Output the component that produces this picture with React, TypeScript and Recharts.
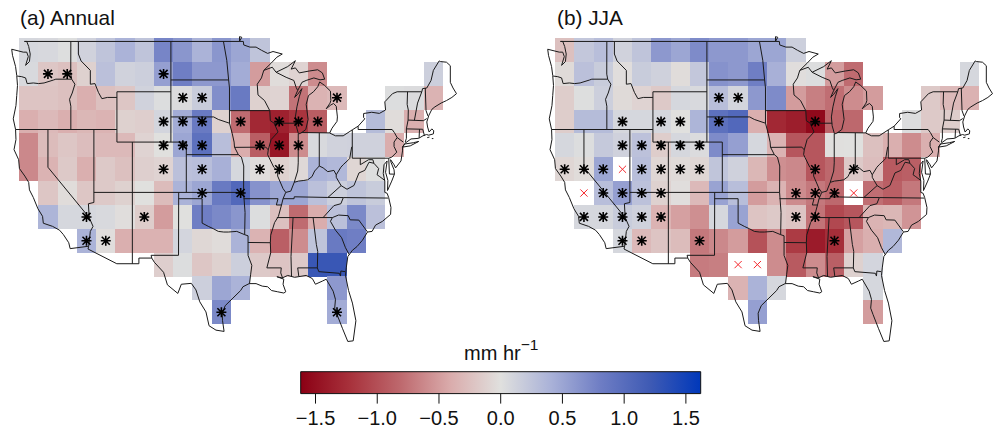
import React from 'react';
import { ScatterChart, Scatter, XAxis, YAxis, ReferenceArea } from 'recharts';

const n = null;

// cell centres of the 2.5 x 1.9 degree model grid
const LONS = [-122.5, -120, -117.5, -115, -112.5, -110, -107.5, -105, -102.5, -100, -97.5, -95, -92.5, -90, -87.5, -85, -82.5, -80, -77.5, -75, -72.5, -70];
const LATS = [48.32, 46.42, 44.53, 42.63, 40.74, 38.84, 36.95, 35.05, 33.16, 31.26, 29.37, 27.47];

const ANNUAL_VALUES = [
  [0.08, 0.07, 0.02, 0.12, 0.25, 0.4, 0.25, 0.75, 0.62, 0.4, 0.62, 0.5, 0.25, n, n, n, n, n, n, n, n, n],
  [0.06, -0.2, -0.25, -0.12, 0.28, 0.12, 0.15, 0.55, 0.8, 0.6, 0.6, 0.45, -0.5, -0.03, -0.1, -0.6, n, n, n, n, n, 0.15],
  [-0.22, -0.22, -0.25, -0.38, -0.25, -0.2, 0.12, 0.03, 0.04, 0.18, 0.68, 0.85, -0.12, -0.1, -0.75, -0.35, -0.3, n, n, 0.03, 0.04, -0.35],
  [-0.38, -0.3, -0.38, -0.32, -0.35, -0.12, -0.14, 0.1, 0.45, 0.85, -0.12, -0.8, -1.3, -1.35, -1.2, -0.9, n, n, 0.32, -0.03, -0.38, n],
  [-0.62, -0.28, -0.2, -0.27, -0.3, -0.3, -0.1, 0, 0.5, 0.95, 0.3, -0.4, -0.9, -1.45, -0.6, 0.06, 0.12, 0.13, 0.13, -0.4, n, n],
  [-0.62, -0.35, -0.18, -0.38, -0.18, -0.25, -0.13, -0.1, 0.28, 0.3, 0.42, 0.08, -0.02, -0.12, -0.06, 0.4, 0.35, -0.08, 0.02, n, n, n],
  [n, -0.2, -0.03, -0.2, -0.18, -0.12, 0, -0.28, 0.4, 0.5, 0.85, 1.05, 0.65, 0.5, 0.5, 0.28, 0.15, 0.25, 0.18, n, n, n],
  [n, 0.38, 0.08, 0.08, 0.06, -0.02, -0.15, -0.5, 0, 0.8, 0.72, 0.62, 0.03, -0.25, -0.8, -0.4, 0.28, 0.72, 0.28, n, n, n],
  [n, n, n, 0.4, -0.02, -0.38, -0.36, -0.36, 0.1, -0.07, -0.03, 0.4, -0.35, -0.88, -0.6, 0.25, 0.85, 0.8, n, n, n, n],
  [n, n, n, n, n, n, n, -0.14, 0.03, -0.2, -0.12, 0.15, -0.18, -0.22, -0.18, 1.25, 1.25, n, n, n, n, n],
  [n, n, n, n, n, n, n, n, n, 0.15, 0.5, 0.4, n, n, n, n, 0.6, n, n, n, n, n],
  [n, n, n, n, n, n, n, n, n, n, 0.72, n, n, n, n, n, 0.45, n, n, n, n, n],
];

const JJA_VALUES = [
  [-0.25, 0.22, 0.3, 0.12, 0.25, 0.6, 0.5, 0.7, 0.6, 0.6, 0.5, 0.5, 0.15, n, n, n, n, n, n, n, n, n],
  [-0.05, 0.28, 0.18, -0.02, 0.18, 0.13, -0.03, 0.22, 0.65, 0.6, 0.8, 0.42, -0.02, 0.03, -0.5, -0.8, n, n, n, n, n, 0.08],
  [-0.15, 0.02, 0.15, -0.05, -0.1, -0.18, 0.08, 0.06, 0.3, 0.1, 0.6, 0.7, -0.5, -0.68, -0.78, -0.6, -0.5, n, n, -0.18, -0.3, -0.36],
  [-0.15, 0.32, 0.32, 0.08, 0.08, 0.08, 0, 0.38, 0.95, 1.05, -0.38, -1.3, -1.38, -1.55, -0.85, -0.82, n, n, 0.03, -0.18, -0.15, n],
  [0.08, 0.03, 0.2, 0.13, 0.27, -0.15, 0.08, 0.04, 0.7, 0.55, 0.08, -0.35, -0.95, -0.95, -0.01, 0, -0.25, -0.38, -0.6, -0.38, n, n],
  [-0.08, -0.03, 0.5, n, 0.3, -0.08, -0.05, -0.08, 0.24, 0.13, -0.32, -0.58, -0.62, -0.95, -0.82, -0.18, -0.27, -0.92, -0.88, n, n, n],
  [n, n, 0.3, 0.55, 0.27, -0.12, -0.02, -0.3, 0.52, 0.3, -0.5, -0.35, -0.6, -0.72, -0.82, n, -0.78, -0.88, -0.72, n, n, n],
  [n, 0.08, 0.08, 0.18, 0.13, -0.35, -0.48, -0.58, 0.08, 0.52, -0.22, -0.18, -0.22, -0.75, -1.05, -0.95, -0.35, -0.32, -0.55, n, n, n],
  [n, n, n, 0.08, -0.3, -0.22, -0.28, -0.72, -0.62, -0.5, -0.98, -0.6, -1.15, -1.4, -1.25, -0.48, -0.38, 0.35, n, n, n, n],
  [n, n, n, n, n, n, n, -0.7, -0.68, n, n, -0.6, -0.92, -0.6, -0.88, -0.12, 0.1, n, n, n, n, n],
  [n, n, n, n, n, n, n, n, n, -0.35, 0.4, 0.08, n, n, n, n, 0.08, n, n, n, n, n],
  [n, n, n, n, n, n, n, n, n, n, 0.55, n, n, n, n, n, -0.5, n, n, n, n, n],
];

// [column, row] of the marked cells
const ANNUAL_STARS = [
  [1, 1], [2, 1], [7, 1], [8, 2], [9, 2], [16, 2], [7, 3], [8, 3], [9, 3], [11, 3], [13, 3], [14, 3], [15, 3],
  [7, 4], [8, 4], [9, 4], [12, 4], [13, 4], [14, 4], [7, 5], [9, 5], [12, 5], [13, 5],
  [9, 6], [11, 6], [3, 7], [6, 7], [3, 8], [4, 8], [10, 11], [16, 11],
];
const JJA_STARS = [
  [8, 2], [9, 2], [3, 3], [5, 3], [6, 3], [8, 3], [13, 3], [3, 4], [4, 4], [5, 4], [6, 4], [7, 4],
  [0, 5], [1, 5], [2, 5], [4, 5], [5, 5], [6, 5], [7, 5], [13, 5], [15, 5],
  [2, 6], [3, 6], [4, 6], [5, 6], [12, 6], [13, 6], [14, 6],
  [1, 7], [2, 7], [3, 7], [4, 7], [5, 7], [12, 7], [13, 7], [3, 8], [4, 8], [7, 8], [14, 8],
];
const JJA_CROSSES = [[3, 5], [1, 6], [15, 6], [9, 9], [10, 9]];

// coastline and lake shores, lon/lat
const COAST = [
  [-123.05, 49], [-122.75, 49], [-122.5, 48.6], [-122.3, 48], [-122.4, 47.4], [-122.9, 47.1], [-122.55, 47.8], [-122.75, 48.15], [-123.2, 48.15], [-124.7, 48.38],
  [-124.6, 47.9], [-124.2, 47], [-124.05, 46.3], [-123.95, 45.5], [-124.05, 44.7], [-124.15, 43.9], [-124.5, 42.85], [-124.2, 42], [-124.15, 41.2], [-124.4, 40.4],
  [-123.8, 39.6], [-123.7, 38.9], [-123, 38.3], [-122.5, 37.8], [-122.4, 37.2], [-121.9, 36.6], [-121.3, 35.7], [-120.7, 35.1], [-120.6, 34.55], [-119.4, 34.3],
  [-118.5, 34], [-118, 33.65], [-117.3, 33], [-117.12, 32.53], [-114.72, 32.72], [-114.8, 32.5], [-111.07, 31.33], [-108.2, 31.33], [-108.2, 31.78], [-106.53, 31.78],
  [-106.2, 31.45], [-105, 30.65], [-104.5, 29.65], [-103.15, 28.97], [-102.7, 29.7], [-101.4, 29.77], [-100.8, 29.25], [-100.3, 28.3], [-99.5, 27.5], [-99.1, 26.4],
  [-98.2, 26.05], [-97.15, 25.95], [-97.35, 26.8], [-97.4, 27.4], [-97, 28], [-96, 28.6], [-95, 29.2], [-94.7, 29.5], [-93.9, 29.75], [-93, 29.75], [-92.2, 29.55],
  [-91.5, 29.5], [-91, 29.2], [-90.2, 29.1], [-89.4, 29], [-89.15, 29.1], [-89.5, 29.7], [-89.4, 30.1], [-90.3, 30.3], [-89.6, 30.2], [-88.9, 30.4], [-88, 30.25],
  [-87.5, 30.3], [-86.5, 30.4], [-85.7, 30.15], [-85.3, 29.7], [-84.4, 29.95], [-83.9, 30.1], [-83, 29.15], [-82.7, 28.5], [-82.8, 27.8], [-82.5, 27.3], [-81.8, 26.2],
  [-81.1, 25.15], [-80.4, 25.2], [-80.05, 26.8], [-80.5, 28.2], [-81, 29.2], [-81.4, 30.4], [-81.3, 31], [-81.1, 31.9], [-80.5, 32.4], [-79.9, 32.7], [-79.2, 33.2],
  [-78.55, 33.85], [-77.95, 33.9], [-77.5, 34.4], [-76.6, 34.7], [-75.55, 35.25], [-75.5, 35.8], [-75.8, 36.6], [-76, 36.93], [-76.3, 37], [-76.3, 37.9], [-76.5, 38.5],
  [-76.4, 39.2], [-76, 39.5], [-76.2, 38.6], [-75.9, 37.95], [-75.95, 37.15], [-75.4, 37.9], [-75.05, 38.45], [-75.1, 38.8], [-75.5, 39.4], [-75.55, 39.6], [-75.1, 39.2],
  [-74.9, 38.95], [-74.2, 39.5], [-74, 40.3], [-74, 40.6], [-73.7, 40.9], [-72.9, 41.25], [-71.9, 41.3], [-71.35, 41.5], [-70.9, 41.6], [-70.6, 41.55], [-70, 41.65],
  [-69.95, 41.9], [-70.2, 42.05], [-70.55, 41.8], [-70.75, 42.2], [-70.85, 42.6], [-70.6, 43.1], [-70.2, 43.6], [-69.8, 43.8], [-69, 44.1], [-68.3, 44.3], [-67.6, 44.55],
  [-67, 44.85], [-67.45, 45.3], [-67.8, 45.75], [-67.8, 47.07], [-68.3, 47.35], [-69.05, 47.4], [-69.25, 47.45], [-70, 46.7], [-70.3, 45.9], [-70.85, 45.3], [-71.4, 45.25],
  [-71.5, 45], [-74.7, 45], [-75.3, 44.85], [-76.3, 44.2], [-76.2, 43.55], [-77, 43.28], [-78, 43.37], [-79.05, 43.27], [-79.05, 42.95], [-78.9, 42.85], [-79.75, 42.27],
  [-80.5, 41.98], [-81.7, 41.5], [-82.7, 41.5], [-83.45, 41.72], [-83.15, 42.1], [-82.5, 42.65], [-82.45, 43], [-82.6, 43.85], [-82.95, 44.07], [-83.3, 43.95], [-83.9, 43.65],
  [-83.4, 44.1], [-83.3, 44.3], [-83.35, 45.05], [-84.1, 45.5], [-84.75, 45.78], [-85, 45.4], [-85.55, 45], [-86.2, 44.7], [-86.5, 44], [-86.25, 42.8], [-86.55, 42],
  [-87.2, 41.7], [-87.5, 41.65], [-87.8, 42.3], [-87.9, 43], [-87.7, 43.8], [-87.4, 44.6], [-87.05, 45.25], [-87.6, 44.8], [-88, 44.55], [-87.6, 45.1], [-87.05, 45.75],
  [-86.5, 45.9], [-85.5, 46.1], [-84.7, 45.95], [-84.1, 46], [-84.4, 46.5], [-85, 46.75], [-86.1, 46.65], [-87.4, 46.5], [-87.9, 46.9], [-88.45, 46.8], [-87.9, 47.47],
  [-88.9, 47], [-90.4, 46.55], [-90.9, 46.95], [-92, 46.7], [-91, 47.3], [-90.3, 47.75], [-89.6, 48], [-90.8, 48.2], [-91.5, 48.05], [-92.3, 48.3], [-93, 48.55], [-93.8, 48.55],
  [-94.6, 48.72], [-94.65, 49], [-95.15, 49], [-95.15, 49.38], [-94.85, 49.33], [-95.15, 49], [-123.05, 49],
];
const LONG_ISLAND = [[-74, 40.6], [-73, 40.7], [-71.9, 41.05], [-72.6, 40.95], [-73.7, 40.85], [-74, 40.6]];

const STATE_LINES = [
  [[-117.03, 49], [-117.04, 46.4], [-116.92, 46], [-116.5, 45.6], [-116.85, 44.9], [-117.2, 44.4], [-117.03, 43.85], [-117.03, 42]],
  [[-124, 46.25], [-123.4, 46.2], [-122.9, 46.1], [-122.7, 45.65], [-121.9, 45.7], [-121.2, 45.65], [-120.5, 45.7], [-119.3, 45.93], [-118.98, 46], [-116.92, 46]],
  [[-124.2, 42], [-111.05, 42]],
  [[-120, 42], [-120, 39], [-114.65, 35]],
  [[-114.04, 42], [-114.04, 36.2], [-114.75, 36.1], [-114.65, 35], [-114.15, 34.3], [-114.5, 33.9], [-114.72, 32.72]],
  [[-114.04, 37], [-94.62, 37]],
  [[-111.05, 45], [-111.05, 41], [-102.05, 41], [-102.05, 37]],
  [[-111.05, 45], [-104.05, 45]],
  [[-116.05, 49], [-116.05, 48], [-115.7, 47.45], [-114.5, 46.7], [-114.5, 45.6], [-113.9, 45.65], [-113.45, 44.95], [-113, 44.45], [-112.3, 44.55], [-111.05, 44.55]],
  [[-104.05, 49], [-104.05, 41]],
  [[-104.05, 45.94], [-96.56, 45.94]],
  [[-104.05, 43], [-98.5, 43], [-97.9, 42.8], [-96.45, 42.5]],
  [[-102.05, 40], [-95.3, 40]],
  [[-109.05, 41], [-109.05, 31.33]],
  [[-103.04, 37], [-103.06, 32], [-106.62, 32], [-106.53, 31.78]],
  [[-103.04, 36.5], [-100, 36.5], [-100, 34.56], [-99.5, 34.4], [-99.2, 34.3], [-98.5, 34.1], [-97.9, 33.9], [-97.2, 33.85], [-96.6, 33.85], [-95.5, 33.9], [-94.48, 33.64]],
  [[-94.62, 37], [-94.43, 35.4], [-94.48, 33.64], [-94.04, 33.55], [-94.04, 31.99], [-93.55, 31.2], [-93.7, 30.5], [-93.85, 29.75]],
  [[-94.04, 33.02], [-91.15, 33]],
  [[-95.3, 40], [-94.9, 39.8], [-94.6, 39.1], [-94.62, 37]],
  [[-97.23, 49], [-96.8, 47.5], [-96.56, 45.94], [-96.45, 45.3], [-96.45, 42.5], [-96.1, 41.7], [-95.85, 41], [-95.8, 40.6], [-95.3, 40]],
  [[-96.45, 43.5], [-91.22, 43.5]],
  [[-95.77, 40.58], [-91.73, 40.6], [-91.42, 40.38]],
  [[-92, 46.7], [-92.3, 46.1], [-92.85, 45.6], [-92.75, 44.75], [-91.9, 44.3], [-91.22, 43.5], [-91.15, 42.7], [-90.65, 42.5], [-90.15, 41.8], [-91.05, 41.2], [-91.42, 40.38], [-91.5, 40], [-90.7, 39], [-90.2, 38.7], [-90.2, 38.3], [-89.5, 37.3], [-89.15, 37], [-89.5, 36.5], [-89.7, 36], [-90.1, 35.1], [-90.6, 34.6], [-91.1, 33.6], [-91.15, 33], [-91.1, 32.2], [-91.6, 31], [-89.73, 31], [-89.8, 30.6], [-89.55, 30.18]],
  [[-90.65, 42.5], [-87.8, 42.5]],
  [[-90.4, 46.55], [-89.1, 46.15], [-88.1, 45.9], [-87.8, 45.35], [-87.6, 45.1]],
  [[-87.53, 41.65], [-87.53, 39.35], [-87.6, 38.7], [-87.95, 38], [-88.05, 37.8]],
  [[-89.15, 37], [-88.5, 37.1], [-88.05, 37.8], [-87.5, 37.9], [-86.8, 37.95], [-86.3, 38], [-85.75, 38.25], [-85.4, 38.7], [-84.8, 39.1], [-84.3, 38.95], [-83.7, 38.65], [-82.9, 38.75], [-82.6, 38.4], [-82, 39], [-81.7, 39.2], [-81, 39.6], [-80.85, 39.7], [-80.6, 40.6], [-80.52, 40.64]],
  [[-80.52, 41.98], [-80.52, 39.72], [-75.79, 39.72], [-75.7, 38.46], [-75.05, 38.45]],
  [[-79.76, 42.27], [-79.76, 42], [-75.35, 42], [-75.05, 41.75], [-74.7, 41.36], [-73.9, 41]],
  [[-74.7, 41.36], [-75.1, 41], [-75.1, 40.65], [-74.75, 40.2], [-75.4, 39.8], [-75.79, 39.72]],
  [[-79.48, 39.72], [-79.48, 39.2], [-78.4, 39.6], [-77.85, 39.6], [-77.72, 39.32], [-77.1, 38.9], [-77.3, 38.4], [-76.95, 38.25], [-76.3, 37.95]],
  [[-77.72, 39.32], [-78.35, 39.4], [-78.9, 38.75], [-79.65, 38.55], [-80.3, 37.55], [-81.2, 37.25], [-81.97, 37.54], [-82.6, 38.2], [-82.6, 38.4]],
  [[-81.97, 37.54], [-83.68, 36.6]],
  [[-75.87, 36.55], [-81.68, 36.59], [-83.68, 36.6], [-88.05, 36.65], [-88.07, 36.5], [-89.5, 36.5]],
  [[-81.68, 36.59], [-82, 36.1], [-82.9, 35.95], [-84.32, 34.99]],
  [[-90.3, 35], [-83.1, 35], [-82.3, 35.2], [-81.05, 35.15], [-80.8, 34.82], [-79.67, 34.8], [-78.55, 33.86]],
  [[-83.1, 35], [-83.35, 34.7], [-82.7, 34], [-81.9, 33.4], [-81.4, 32.6], [-80.9, 32.05]],
  [[-85.6, 34.98], [-85.18, 32.87], [-85, 32.3], [-85.05, 31], [-84.86, 30.7], [-82.2, 30.57], [-82.05, 30.35], [-82, 30.75], [-81.45, 30.7]],
  [[-85.05, 31], [-87.6, 31], [-87.45, 30.3]],
  [[-88.2, 35], [-88.47, 31.9], [-88.4, 30.3]],
  [[-87.2, 41.76], [-83.45, 41.73]],
  [[-84.8, 41.72], [-84.8, 39.1]],
  [[-94.62, 36.5], [-90.15, 36.5], [-90.37, 36], [-89.7, 36]],
  [[-73.35, 45], [-73.4, 44], [-73.25, 43.55], [-73.28, 42.75], [-73.5, 42.05], [-73.5, 41.3], [-73.65, 41]],
  [[-73.5, 42.05], [-71.38, 42.02], [-71.15, 41.5]],
  [[-71.8, 42.02], [-71.85, 41.32]],
  [[-73.28, 42.75], [-71.3, 42.7], [-70.85, 42.87]],
  [[-72.46, 42.73], [-72.05, 44.1], [-71.5, 45]],
  [[-71.05, 45.3], [-70.95, 43.5], [-70.7, 43.07]],
  [[-70.8, 41.35], [-70.5, 41.4]],
  [[-70.2, 41.28], [-70, 41.28]],
  LONG_ISLAND,
];

const COLORBAR_TICKS = [-1.5, -1, -0.5, 0, 0.5, 1, 1.5];
const LIMIT = 1.62;

// palette, from -LIMIT to +LIMIT in equal steps
const PALETTE = [
  [139, 0, 20], [168, 50, 60], [190, 105, 110], [218, 172, 172],
  [224, 224, 222],
  [170, 178, 216], [110, 125, 196], [62, 90, 180], [0, 56, 186],
];

const colorFor = (v: number) => {
  const pos = ((Math.max(-LIMIT, Math.min(LIMIT, v)) + LIMIT) / (2 * LIMIT)) * (PALETTE.length - 1);
  const i = Math.min(Math.floor(pos), PALETTE.length - 2);
  const f = pos - i;
  const c = PALETTE[i].map((a, k) => Math.round(a + (PALETTE[i + 1][k] - a) * f));
  return `rgb(${c[0]},${c[1]},${c[2]})`;
};

const CELL_W = 19.27;
const CELL_H = 23.83;
const FONT = '"Liberation Sans", Arial, sans-serif';

const CellShape = (props: any) => (
  <rect
    x={props.cx - CELL_W / 2}
    y={props.cy - CELL_H / 2}
    width={CELL_W}
    height={CELL_H}
    fill={props.payload.color}
    shapeRendering="crispEdges"
  />
);

const StarShape = (props: any) => {
  const { cx, cy } = props;
  const r = 5;
  const d = r * 0.8;
  return (
    <path
      d={`M${cx - r},${cy}H${cx + r}M${cx},${cy - r}V${cy + r}M${cx - d},${cy - d}L${cx + d},${cy + d}M${cx - d},${cy + d}L${cx + d},${cy - d}`}
      stroke="#000"
      strokeWidth={1.6}
      fill="none"
    />
  );
};

const CrossShape = (props: any) => {
  const { cx, cy } = props;
  const r = 3.6;
  return (
    <path
      d={`M${cx - r},${cy - r}L${cx + r},${cy + r}M${cx - r},${cy + r}L${cx + r},${cy - r}`}
      stroke="#f5282d"
      strokeWidth={1}
      fill="none"
    />
  );
};

const NoPoint = () => null;

const toCells = (rows: (number | null)[][]) =>
  rows.flatMap((row, r) =>
    row.flatMap((v, c) => (v === null ? [] : [{ lon: LONS[c], lat: LATS[r], color: colorFor(v) }]))
  );
const toMarks = (marks: number[][]) => marks.map(([c, r]) => ({ lon: LONS[c], lat: LATS[r] }));
const toLine = (pts: number[][]) => pts.map(([lon, lat]) => ({ lon, lat }));

const MapPanel = ({ left, values, stars, crosses }: any) => (
  <div style={{ position: 'absolute', left, top: 30 }}>
    <ScatterChart width={480} height={315} margin={{ top: 0, right: 0, bottom: 0, left: 0 }}>
      <XAxis type="number" dataKey="lon" domain={[-126.22, -63.95]} hide allowDataOverflow />
      <YAxis type="number" dataKey="lat" domain={[24.87, 49.91]} hide allowDataOverflow />
      <Scatter data={toCells(values)} shape={CellShape} isAnimationActive={false} />
      {[COAST, ...STATE_LINES].map((pts, i) => (
        <Scatter
          key={i}
          data={toLine(pts)}
          line={{ stroke: '#1a1a1a', strokeWidth: 1 }}
          shape={NoPoint}
          isAnimationActive={false}
        />
      ))}
      <Scatter data={toMarks(stars)} shape={StarShape} isAnimationActive={false} />
      {crosses && <Scatter data={toMarks(crosses)} shape={CrossShape} isAnimationActive={false} />}
    </ScatterChart>
  </div>
);

const label = (left: number, top: number, text: React.ReactNode, size = 20.8) => (
  <div style={{ position: 'absolute', left, top, fontSize: size, lineHeight: 1, fontFamily: FONT, color: '#111', whiteSpace: 'nowrap' }}>
    {text}
  </div>
);

const Colorbar = () => (
  <div style={{ position: 'absolute', left: 290, top: 360 }}>
    <ScatterChart width={420} height={69} margin={{ top: 11.7, right: 9.3, bottom: 0, left: 10.7 }}>
      <defs>
        <linearGradient id="bar" x1="0" y1="0" x2="1" y2="0">
          {PALETTE.map((c, i) => (
            <stop key={i} offset={`${(i / (PALETTE.length - 1)) * 100}%`} stopColor={`rgb(${c[0]},${c[1]},${c[2]})`} />
          ))}
        </linearGradient>
      </defs>
      <XAxis
        type="number"
        dataKey="v"
        domain={[-LIMIT, LIMIT]}
        ticks={COLORBAR_TICKS}
        interval={0}
        height={35.4}
        axisLine={false}
        tickSize={10}
        tickMargin={7}
        tickLine={{ stroke: '#111', strokeWidth: 1 }}
        tick={{ fill: '#111', fontSize: 20, fontFamily: FONT }}
        tickFormatter={(v: number) => (v.toFixed(1)).replace('-', '\u2212')}
      />
      <YAxis type="number" dataKey="y" domain={[0, 1]} hide />
      <ReferenceArea x1={-LIMIT} x2={LIMIT} y1={0} y2={1} fill="url(#bar)" fillOpacity={1} stroke="#111" strokeWidth={1} />
      <Scatter data={COLORBAR_TICKS.map((v) => ({ v, y: 0 }))} shape={NoPoint} isAnimationActive={false} />
    </ScatterChart>
  </div>
);

export default function App() {
  return (
    <div style={{ position: 'absolute', left: 0, top: 0, width: 993, height: 429, background: '#fff', overflow: 'hidden' }}>
      <MapPanel left={0} values={ANNUAL_VALUES} stars={ANNUAL_STARS} />
      <MapPanel left={536} values={JJA_VALUES} stars={JJA_STARS} crosses={JJA_CROSSES} />
      {label(20, 8, '(a) Annual')}
      {label(557, 8, '(b) JJA')}
      {label(464, 343, <span>mm hr<sup style={{ fontSize: 15.5, lineHeight: 0, verticalAlign: 10 }}>−1</sup></span>, 20)}
      <Colorbar />
    </div>
  );
}
